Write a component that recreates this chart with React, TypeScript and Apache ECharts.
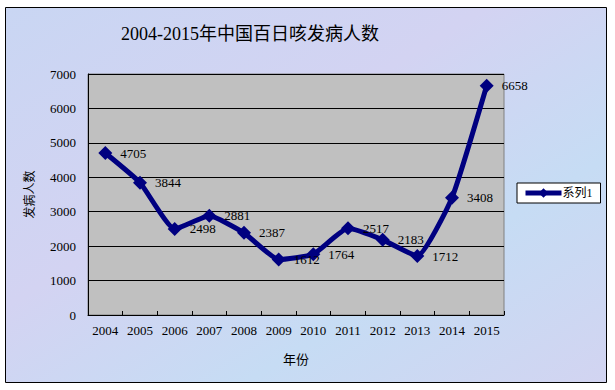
import React, { useEffect, useRef } from "react";
import * as echarts from "echarts";

const years = ["2004", "2005", "2006", "2007", "2008", "2009", "2010", "2011", "2012", "2013", "2014", "2015"];
const cases = [4705, 3844, 2498, 2881, 2387, 1612, 1764, 2517, 2183, 1712, 3408, 6658];
const seriesName = "系列1";
const titleText = "2004-2015年中国百日咳发病人数";
const xName = "年份";
const yName = "发病人数";

const FONT = "'Liberation Serif', 'Noto Sans CJK SC', serif";

export default function App() {
  const ref = useRef<HTMLDivElement>(null);
  useEffect(() => {
    if (!ref.current) return;
    const chart = echarts.init(ref.current, undefined, { renderer: "svg" });
    chart.setOption({
      animation: false,
      backgroundColor: "#ffffff",
      graphic: [
        {
          type: "rect",
          z: -10,
          silent: true,
          shape: { x: 5.5, y: 7.5, width: 601, height: 375 },
          style: {
            fill: new echarts.graphic.LinearGradient(0, 0, 1, 1, [
              { offset: 0, color: "#c9d6f3" },
              { offset: 0.4, color: "#d3d3f2" },
              { offset: 0.7, color: "#c6dcf4" },
              { offset: 1, color: "#d2d4f1" },
            ]),
            stroke: "#000000",
            lineWidth: 1,
          },
        },
        {
          type: "rect",
          z: -5,
          silent: true,
          shape: { x: 88, y: 74, width: 416, height: 241 },
          style: { fill: "#c0c0c0", stroke: "#808080", lineWidth: 1 },
        },
      ],
      title: {
        text: titleText,
        left: 245,
        top: 20,
        textAlign: "center",
        textStyle: { fontFamily: FONT, fontSize: 18, fontWeight: "normal", color: "#000" },
      },
      legend: {
        data: [seriesName],
        left: 517,
        top: 183,
        orient: "vertical",
        backgroundColor: "#ffffff",
        borderColor: "#000000",
        borderWidth: 1,
        padding: [4, 8, 4, 6],
        itemWidth: 36,
        itemHeight: 12,
        itemGap: 2,
        lineStyle: { width: 5, color: "#000080" },
        textStyle: { fontFamily: FONT, fontSize: 12, color: "#000", padding: [0, 0, 0, -4] },
      },
      grid: { left: 88, top: 74, width: 416, height: 241, containLabel: false },
      xAxis: {
        type: "category",
        data: years,
        boundaryGap: true,
        name: xName,
        nameLocation: "middle",
        nameGap: 38,
        nameTextStyle: { fontFamily: FONT, fontSize: 13, color: "#000" },
        axisLine: { show: true, lineStyle: { color: "#000", width: 1 } },
        axisTick: { show: true, inside: true, length: 4, lineStyle: { color: "#000" } },
        axisLabel: { fontFamily: FONT, fontSize: 13, color: "#000", margin: 9 },
        splitLine: { show: false },
      },
      yAxis: {
        type: "value",
        min: 0,
        max: 7000,
        interval: 1000,
        name: yName,
        nameLocation: "middle",
        nameGap: 52,
        nameRotate: 90,
        nameTextStyle: { fontFamily: FONT, fontSize: 12, color: "#000" },
        axisLine: { show: true, lineStyle: { color: "#000", width: 1 } },
        axisTick: { show: false },
        axisLabel: {
          fontFamily: FONT,
          fontSize: 13,
          color: "#000",
          margin: 12,
          formatter: (v: number) => String(v),
        },
        splitLine: { show: true, lineStyle: { color: "#000", width: 1 } },
      },
      series: [
        {
          name: seriesName,
          type: "line",
          data: cases,
          smooth: 0.15,
          symbol: "diamond",
          symbolSize: 14,
          lineStyle: { color: "#000080", width: 5 },
          itemStyle: { color: "#000080" },
          label: {
            show: true,
            position: "right",
            distance: 8,
            fontFamily: FONT,
            fontSize: 13,
            color: "#000",
          },
        },
      ],
    });
    return () => chart.dispose();
  }, []);
  return (
    <div
      ref={ref}
      style={{ position: "fixed", left: 0, top: 0, width: 615, height: 390 }}
    />
  );
}
